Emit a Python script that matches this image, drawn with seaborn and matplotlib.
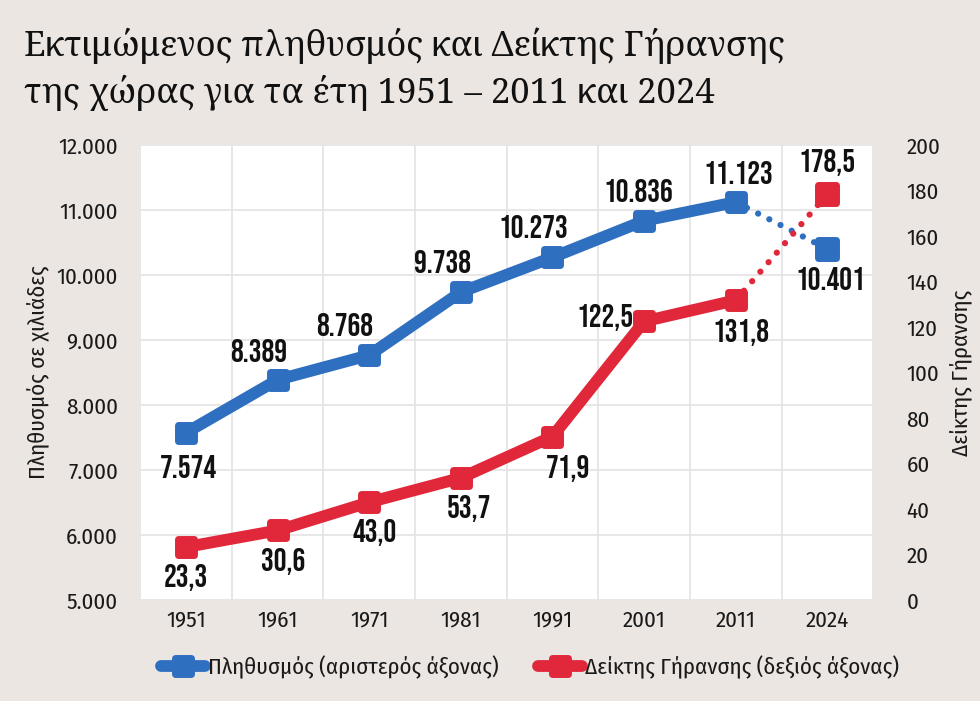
import numpy as np
import pandas as pd
import matplotlib
matplotlib.use("Agg")
import matplotlib.pyplot as plt
import seaborn as sns
from matplotlib.markers import MarkerStyle
from matplotlib.lines import Line2D

years = ["1951", "1961", "1971", "1981", "1991", "2001", "2011", "2024"]
plithysmos = [7574, 8389, 8768, 9738, 10273, 10836, 11123, 10401]
deiktis = [23.3, 30.6, 43.0, 53.7, 71.9, 122.5, 131.8, 178.5]

# θέσεις ετικετών (offset σε points) γύρω από κάθε σημείο
off_blue = [(2, -24), (-14, 21), (-18, 22), (-13, 22), (-14, 22), (-4, 22), (2, 21), (2, -21)]
off_red = [(0, -22), (4, -22), (4, -22), (6, -22), (11, -23), (-28, 3), (4, -23), (0, 23)]

BG = "#ece6e2"
BLUE = "#2f6fc0"
RED = "#e0283a"
TXT = "#1a1a1a"
FS = 16.5

df = pd.DataFrame({"pos": np.arange(len(years)), "year": years,
                   "pop": plithysmos, "idx": deiktis})

sns.set_theme(style="white")
plt.rcParams["font.family"] = ["Fira Sans Condensed", "DejaVu Sans"]

fig = plt.figure(figsize=(9.8, 7.01), dpi=100, facecolor=BG)
ax = fig.add_axes([0.143, 0.144, 0.748, 0.649])
ax2 = ax.twinx()

msq = MarkerStyle("s", joinstyle="round")
solid = df.iloc[:-1]
dots = df.iloc[-2:]

for a, col, c in [(ax, "pop", BLUE), (ax2, "idx", RED)]:
    sns.lineplot(data=solid, x="pos", y=col, ax=a, color=c, lw=8.5,
                 marker=msq, markersize=11, markeredgewidth=5, markeredgecolor=c,
                 solid_capstyle="round", solid_joinstyle="round", zorder=3)
    sns.lineplot(data=dots, x="pos", y=col, ax=a, color=c, lw=4.5,
                 linestyle=(0, (0.01, 2)), dash_capstyle="round", zorder=2)
    sns.scatterplot(data=dots.iloc[-1:], x="pos", y=col, ax=a, color=c,
                    marker=msq, s=150, edgecolor=c, linewidth=5, zorder=4)

lab_font = dict(family=["Bebas Neue", "DejaVu Sans"], fontsize=23,
                color="#111111", ha="center", va="center")
for x, v, o in zip(df["pos"], plithysmos, off_blue):
    ax.annotate(f"{v:,}".replace(",", "."), (x, v), xytext=o,
                textcoords="offset points", zorder=6, **lab_font)
for x, v, o in zip(df["pos"], deiktis, off_red):
    ax2.annotate(f"{v:.1f}".replace(".", ","), (x, v), xytext=o,
                 textcoords="offset points", zorder=6, **lab_font)

ax.set_xlim(-0.5, len(years) - 0.5)
ax.set_ylim(5000, 12000)
ax2.set_ylim(0, 200)
ax.set_xticks(df["pos"], years)
ax.set_xticks(np.arange(-0.5, len(years)), minor=True)
ax.set_yticks(range(5000, 12001, 1000))
ax.yaxis.set_major_formatter(plt.FuncFormatter(lambda v, p: f"{int(v):,}".replace(",", ".")))
ax2.set_yticks(range(0, 201, 20))

ax.set_facecolor("white")
ax.grid(True, axis="y", color="#e3e3e3", lw=1.2)
ax.grid(True, axis="x", which="minor", color="#e3e3e3", lw=1.2)
ax.set_axisbelow(True)
for a in (ax, ax2):
    for s in a.spines.values():
        s.set_visible(False)
    a.tick_params(length=0, labelsize=FS, colors=TXT)
ax.tick_params(axis="y", pad=16)
ax.tick_params(axis="x", pad=7)
ax2.tick_params(axis="y", pad=24)

ax.set_xlabel("")
ax.set_ylabel("Πληθυσμός σε χιλιάδες", fontsize=FS, color=TXT, labelpad=5)
ax2.set_ylabel("Δείκτης Γήρανσης", fontsize=FS, color=TXT, labelpad=7)

title_font = dict(family=["Noto Serif", "DejaVu Serif"], fontsize=25, va="center", color="#111111")
fig.text(0.024, 0.935, "Εκτιμώμενος πληθυσμός και Δείκτης Γήρανσης", **title_font)
fig.text(0.024, 0.868, "της χώρας για τα έτη 1951 – 2011 και 2024", **title_font)

handles = [Line2D([], [], color=c, lw=8.5, marker=msq, markersize=11,
                  markeredgewidth=5, solid_capstyle="round") for c in (BLUE, RED)]
fig.legend(handles, ["Πληθυσμός (αριστερός άξονας)", "Δείκτης Γήρανσης (δεξιός άξονας)"],
           loc="center", bbox_to_anchor=(0.541, 0.048), ncol=2, frameon=False,
           handlelength=1.9, handletextpad=0.15, columnspacing=1.7, fontsize=FS,
           labelcolor=TXT)

fig.savefig("out.png", dpi=100, facecolor=BG)
